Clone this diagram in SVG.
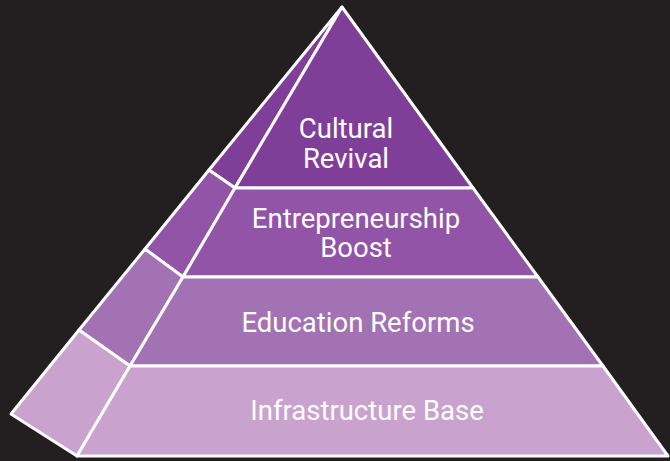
<svg xmlns="http://www.w3.org/2000/svg" width="670" height="461" viewBox="0 0 670 461">
<style>
.f{stroke:#ffffff;stroke-width:3;stroke-linejoin:round}
.t1{fill:#7f3f98}
.t2{fill:#9254a7}
.t3{fill:#a372b4}
.t4{fill:#c9a3cd}
.lbl{font-family:Roboto,"Liberation Sans",sans-serif;font-size:27.5px;font-weight:400;fill:#ffffff;text-anchor:middle}
</style>
<rect width="670" height="461" fill="#231f20"/>
<g id="side">
<polygon class="f t1" points="342,7 209,170 235,188"/>
<polygon class="f t2" points="209,170 145,249 183,277 235,188"/>
<polygon class="f t3" points="145,249 79,330 130,366 183,277"/>
<polygon class="f t4" points="79,330 11,414 77,456 130,366"/>
</g>
<g id="tier1">
<polygon class="f t1" points="342,7 473,188 235,188"/>
<text class="lbl" x="346" y="138">Cultural</text>
<text class="lbl" x="346" y="168">Revival</text>
</g>
<g id="tier2">
<polygon class="f t2" points="235,188 473,188 538,277 183,277"/>
<text class="lbl" x="356" y="228">Entrepreneurship</text>
<text class="lbl" x="356" y="257">Boost</text>
</g>
<g id="tier3">
<polygon class="f t3" points="183,277 538,277 603,366 130,366"/>
<text class="lbl" x="358" y="332">Education Reforms</text>
</g>
<g id="tier4">
<polygon class="f t4" points="130,366 603,366 668,456 77,456"/>
<text class="lbl" x="367" y="420">Infrastructure Base</text>
</g>
<g id="connectors"/>
</svg>
